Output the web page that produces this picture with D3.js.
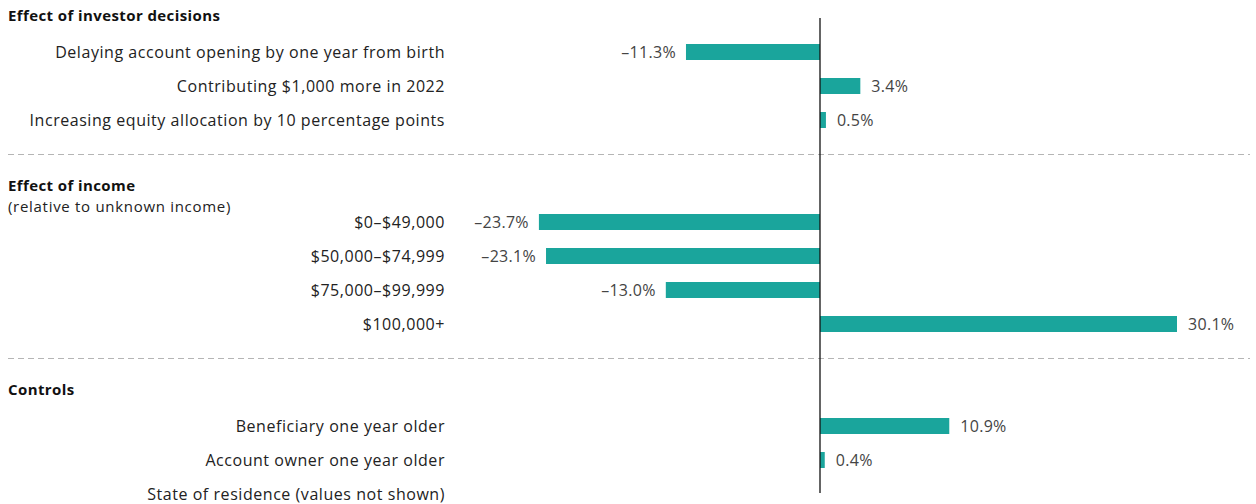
<!DOCTYPE html>
<html>
<head>
<meta charset="utf-8">
<script src="https://cdn.jsdelivr.net/npm/d3@7/dist/d3.min.js"></script>
<style>
  body { margin: 0; background: #fff; }
  svg { display: block; font-family: "Open Sans", Lato, sans-serif; }
  .label { font-size: 16px; letter-spacing: 0.55px; fill: #222; }
  .value { font-size: 16px; letter-spacing: 0.3px; fill: #444; }
  .group-title { font-size: 15px; font-weight: 700; letter-spacing: 0.4px; fill: #111; }
  .group-sub { font-size: 15px; letter-spacing: 0.7px; fill: #222; }
</style>
</head>
<body>
<div id="chart"></div>
<script>
// Data
const groupTitles = ["Effect of investor decisions", "Effect of income", "Controls"];
const groupSubtitles = [null, "(relative to unknown income)", null];

const investorLabels = [
  "Delaying account opening by one year from birth",
  "Contributing $1,000 more in 2022",
  "Increasing equity allocation by 10 percentage points"
];
const investorValues = [-11.3, 3.4, 0.5];

const incomeLabels = ["$0–$49,000", "$50,000–$74,999", "$75,000–$99,999", "$100,000+"];
const incomeValues = [-23.7, -23.1, -13.0, 30.1];

const controlLabels = [
  "Beneficiary one year older",
  "Account owner one year older",
  "State of residence (values not shown)"
];
const controlValues = [10.9, 0.4, null];

const width = 1256;
const height = 504;
const labelRight = 445;
const barHeight = 16;

// build rows on a slot grid: header slot, rows, separator slot
const groups = [
  { labels: investorLabels, values: investorValues },
  { labels: incomeLabels, values: incomeValues },
  { labels: controlLabels, values: controlValues }
];
const rows = [];
const headers = [];
const separators = [];
let slot = -1;
groups.forEach((grp, gi) => {
  headers.push({ title: groupTitles[gi], sub: groupSubtitles[gi], slot: slot });
  slot++;
  grp.labels.forEach((l, i) => {
    rows.push({ label: l, value: grp.values[i], slot: slot });
    slot++;
  });
  if (gi < groups.length - 1) {
    separators.push(slot);
    slot++;
  }
});

const svg = d3.select("#chart").append("svg")
  .attr("width", width)
  .attr("height", height);

const x = d3.scaleLinear()
  .domain([0, 30.1])
  .range([820, 1177]);

const y = d3.scaleLinear()
  .domain([0, 13])
  .range([52, 494]);

const fmt = v => (v < 0 ? "–" : "") + d3.format(".1f")(Math.abs(v)) + "%";

// separators
svg.selectAll(".sep")
  .data(separators)
  .enter()
  .append("line")
  .attr("class", "sep")
  .attr("x1", 8)
  .attr("x2", 1250)
  .attr("y1", d => Math.round(y(d)) + 0.5)
  .attr("y2", d => Math.round(y(d)) + 0.5)
  .attr("stroke", "#b5b5b5")
  .attr("stroke-width", 1.2)
  .attr("stroke-dasharray", "6,4");

// group headers
svg.selectAll(".group-title")
  .data(headers)
  .enter()
  .append("text")
  .attr("class", "group-title")
  .attr("x", 8)
  .attr("y", d => y(d.slot) - 2)
  .attr("dy", "0.35em")
  .text(d => d.title);

svg.selectAll(".group-sub")
  .data(headers.filter(d => d.sub))
  .enter()
  .append("text")
  .attr("class", "group-sub")
  .attr("x", 8)
  .attr("y", d => y(d.slot) + 19)
  .attr("dy", "0.35em")
  .text(d => d.sub);

// row labels
svg.selectAll(".label")
  .data(rows)
  .enter()
  .append("text")
  .attr("class", "label")
  .attr("x", labelRight)
  .attr("y", d => y(d.slot))
  .attr("dy", "0.35em")
  .attr("text-anchor", "end")
  .text(d => d.label);

const barRows = rows.filter(d => d.value !== null);

// bars
svg.selectAll(".bar")
  .data(barRows)
  .enter()
  .append("rect")
  .attr("class", "bar")
  .attr("x", d => x(Math.min(0, d.value)))
  .attr("width", d => Math.abs(x(d.value) - x(0)))
  .attr("y", d => y(d.slot) - barHeight / 2)
  .attr("height", barHeight)
  .attr("fill", "#1aa59c");

// value labels
svg.selectAll(".value")
  .data(barRows)
  .enter()
  .append("text")
  .attr("class", "value")
  .attr("x", d => d.value < 0 ? x(d.value) - 10 : x(d.value) + 11)
  .attr("y", d => y(d.slot))
  .attr("dy", "0.35em")
  .attr("text-anchor", d => d.value < 0 ? "end" : "start")
  .text(d => fmt(d.value));

// zero line
svg.append("line")
  .attr("x1", x(0))
  .attr("x2", x(0))
  .attr("y1", y(-1))
  .attr("y2", y(13) - 1)
  .attr("stroke", "#111")
  .attr("stroke-width", 1.3);
</script>
</body>
</html>
